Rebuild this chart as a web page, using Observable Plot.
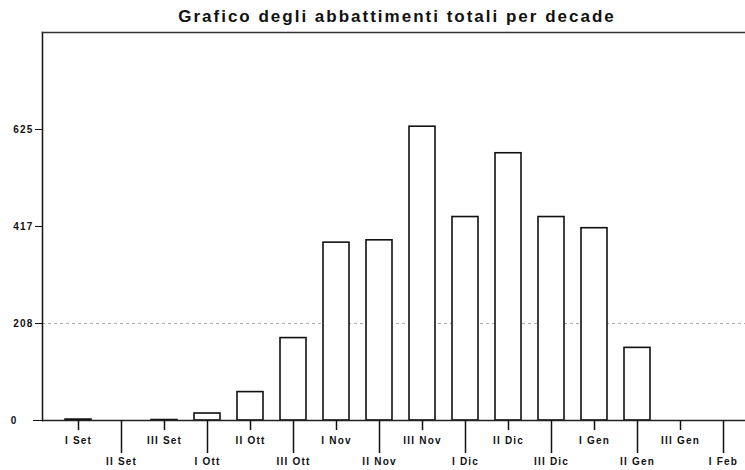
<!DOCTYPE html>
<html><head><meta charset="utf-8">
<script src="https://cdn.jsdelivr.net/npm/d3@7"></script>
<script src="https://cdn.jsdelivr.net/npm/@observablehq/plot@0.6"></script>
<style>
body{margin:0;background:#fff;}
#title{height:26px;box-sizing:border-box;padding-left:49px;text-align:center;font:bold 17px "Liberation Sans",Arial,sans-serif;line-height:34px;letter-spacing:2px;color:#111;}
svg{overflow:visible;}
</style></head><body>
<div id="title">Grafico degli abbattimenti totali per decade</div>
<div id="chart"></div>
<script>
const decades = ["I Set","II Set","III Set","I Ott","II Ott","III Ott","I Nov","II Nov","III Nov","I Dic","II Dic","III Dic","I Gen","II Gen","III Gen","I Feb"];
const totals = [2, 0, 1, 15, 61, 177, 382, 387, 631, 437, 574, 437, 413, 156, 0, 0];
const yTicks = [208.33, 416.67, 625];
const yMax = 833.33;

const data = decades.map((d, i) => ({decade: d, total: totals[i]}));
const shortTicks = decades.filter((d, i) => i % 2 === 0);
const longTicks = decades.filter((d, i) => i % 2 === 1);

const font = {fontSize: 10, fontWeight: "bold", fontFamily: "'Liberation Sans', Arial, sans-serif"};

const chart = Plot.plot({
  width: 745,
  height: 444,
  marginTop: 6,
  marginBottom: 50,
  marginLeft: 42,
  marginRight: 0,
  style: {background: "#fff", color: "#111", letterSpacing: "1.2px"},
  x: {domain: decades, range: [51, 749], paddingInner: 0.4, paddingOuter: 0.2, align: 0.5, axis: null},
  y: {domain: [0, yMax], axis: null},
  marks: [
    Plot.ruleY([yTicks[0]], {stroke: "#888", strokeDasharray: "3,3", strokeOpacity: 0.7}),
    Plot.barY(data, {x: "decade", y: "total", fill: "white", stroke: "#111", strokeWidth: 1.6}),
    Plot.ruleY([0], {stroke: "#222", strokeWidth: 1.5}),
    Plot.frame({anchor: "left", stroke: "#111", strokeWidth: 1.5}),
    Plot.frame({anchor: "top", stroke: "#333", strokeWidth: 1.5}),
    Plot.axisY(yTicks, {anchor: "left", label: null, tickSize: 7, tickPadding: 2, tickFormat: d => Math.round(d), ...font}),
    Plot.axisY([0], {anchor: "left", label: null, tickSize: 9, tickPadding: 16, tickFormat: d => d, ...font}),
    Plot.axisX(shortTicks, {anchor: "bottom", label: null, tickSize: 10, tickPadding: 6, strokeWidth: 1.5, ...font}),
    Plot.axisX(longTicks, {anchor: "bottom", label: null, tickSize: 33, tickPadding: 4, strokeWidth: 1.5, ...font})
  ]
});
document.getElementById("chart").appendChild(chart);
</script>
</body></html>
